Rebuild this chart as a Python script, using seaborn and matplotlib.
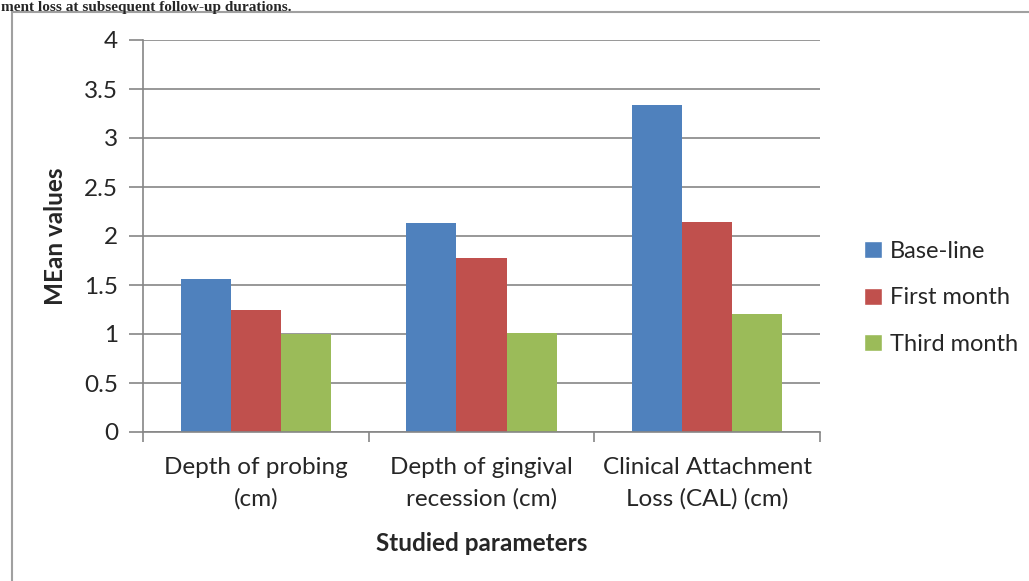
import pandas as pd
import seaborn as sns
import matplotlib.pyplot as plt
from matplotlib.patches import Patch

# Values
categories = ["Depth of probing\n(cm)", "Depth of gingival\nrecession (cm)", "Clinical Attachment\nLoss (CAL) (cm)"]
periods = ["Base-line", "First month", "Third month"]
baseline = [1.56, 2.13, 3.34]
first_month = [1.24, 1.78, 2.14]
third_month = [1.00, 1.01, 1.20]
yticks = [0, 0.5, 1, 1.5, 2, 2.5, 3, 3.5, 4]
ytick_labels = ["0", "0.5", "1", "1.5", "2", "2.5", "3", "3.5", "4"]
colors = ["#4F81BD", "#C0504D", "#9BBB59"]

df = pd.DataFrame({
    "parameter": categories * 3,
    "period": [p for p in periods for _ in categories],
    "value": baseline + first_month + third_month,
})

sns.set_style("white")
plt.rcParams['font.family'] = ['Lato', 'DejaVu Sans']
fs = 17.5

fig = plt.figure(figsize=(10.29, 5.81), dpi=100)
ax = fig.add_axes([143 / 1029, 1 - 432 / 581, 677 / 1029, 392 / 581])

sns.barplot(data=df, x="parameter", y="value", hue="period", palette=colors, saturation=1,
            width=0.665, gap=0, edgecolor="none", ax=ax, legend=False)

# gridlines and axes in Excel style
ax.set_ylim(0, 4)
ax.set_xlim(-0.5, 2.5)
ax.set_yticks(yticks)
ax.set_yticklabels(ytick_labels, fontsize=fs)
ax.yaxis.grid(True, color="#868686", linewidth=1.2)
ax.set_axisbelow(True)
for side in ["top", "right"]:
    ax.spines[side].set_visible(False)
for side in ["left", "bottom"]:
    ax.spines[side].set_color("#868686")
    ax.spines[side].set_linewidth(1.2)
ax.tick_params(axis="y", length=10, width=1.2, color="#868686", pad=8, left=True)

# category boundaries as major ticks, labels on minor ticks
ax.set_xticks([-0.5, 0.5, 1.5, 2.5])
ax.set_xticklabels([])
ax.tick_params(axis="x", which="major", length=7, width=1.2, color="#868686", bottom=True)
ax.set_xticks([0, 1, 2], minor=True)
ax.set_xticklabels(categories, minor=True, fontsize=fs, linespacing=1.6)
ax.tick_params(axis="x", which="minor", length=0, pad=18)

ax.set_xlabel("Studied parameters", fontsize=fs, fontweight="bold", labelpad=16)
ax.set_ylabel("MEan values", fontsize=fs, fontweight="bold", labelpad=12)

handles = [Patch(facecolor=c, label=p) for c, p in zip(colors, periods)]
fig.legend(handles=handles, loc="center left", bbox_to_anchor=(852 / 1029, 1 - 298 / 581),
           frameon=False, fontsize=17, handlelength=0.75, handleheight=0.75,
           handletextpad=0.35, labelspacing=1.08, borderpad=0)

# chart frame and caption above it
fig.add_artist(plt.Rectangle((12 / 1029, -0.1), 1.2, 1 - 12 / 581 + 0.1, transform=fig.transFigure,
                             fill=False, edgecolor="#A0A0A0", linewidth=1.5))
fig.text(0.001, 0.999, "ment loss at subsequent follow-up durations.", family="Liberation Serif",
         fontsize=11, fontweight="bold", va="top", ha="left")

plt.savefig("out.png", dpi=100)
